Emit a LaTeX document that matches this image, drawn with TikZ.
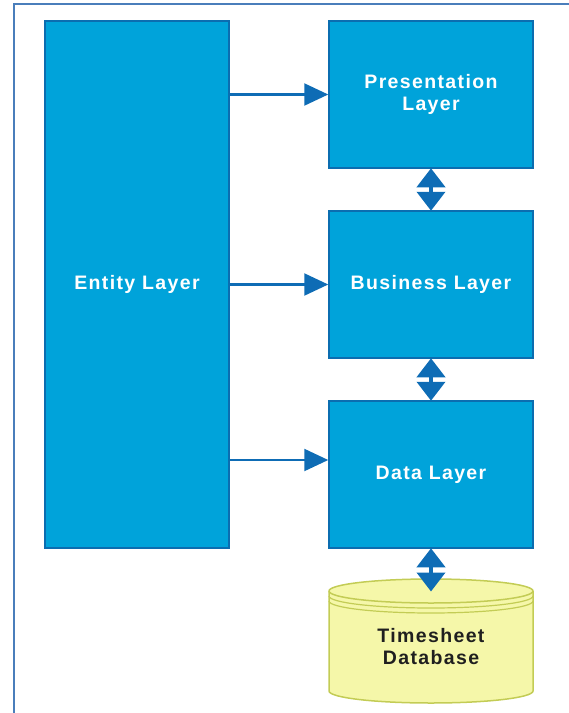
\documentclass[tikz,border=0pt]{standalone}
\usepackage{fontspec}
\setmainfont{Liberation Sans}[LetterSpace=7]
\usetikzlibrary{arrows.meta}
\definecolor{boxfill}{HTML}{00A3DA}
\definecolor{boxline}{HTML}{0B6DB0}
\definecolor{arrowc}{HTML}{0E6CB5}
\definecolor{framec}{HTML}{4A7EBB}
\definecolor{dbfill}{HTML}{F5F7A9}
\definecolor{dbline}{HTML}{C3CC55}
\tikzset{
  layer/.style={draw=boxline, line width=1.5pt, fill=boxfill, rectangle, inner sep=0pt,
    text=white, font=\fontsize{19.5}{22}\selectfont\bfseries, align=center},
  conn/.style={draw=arrowc, line width=2.2pt, -{Triangle[length=24pt,width=22pt]}},
  dconn/.style={draw=arrowc, line width=4pt, {Triangle[length=19pt,width=28pt]}-{Triangle[length=19pt,width=28pt]}, shorten <=-0.5pt, shorten >=-0.5pt}
}
\begin{document}
\begin{tikzpicture}[x=1pt,y=-1pt]
\useasboundingbox (0,0) rectangle (569,713);
% frame
\draw[framec, line width=2pt] (14,713) -- (14,4) -- (569,4);
% boxes
\node[layer, minimum width=184pt, minimum height=527pt] (entity) at (137,284.5) {Entity Layer};
\node[layer, minimum width=204pt, minimum height=147pt] (pres) at (431,94.5) {Presentation\\[0pt]Layer};
\node[layer, minimum width=204pt, minimum height=147pt] (bus) at (431,284.5) {Business Layer};
\node[layer, minimum width=204pt, minimum height=147pt] (data) at (431,474.5) {Data Layer};
% database cylinder
\filldraw[fill=dbfill, draw=dbline, line width=1.5pt]
  (329,591) -- (329,691) arc[start angle=180, end angle=0, x radius=102, y radius=12]
  -- (533,591) arc[start angle=360, end angle=180, x radius=102, y radius=12] -- cycle;
\draw[dbline, line width=1.5pt] (329,591) arc[start angle=180, end angle=0, x radius=102, y radius=12];
\draw[dbline, line width=1.2pt] (329,596) arc[start angle=180, end angle=0, x radius=102, y radius=12];
\draw[dbline, line width=1.2pt] (329,601) arc[start angle=180, end angle=0, x radius=102, y radius=12];
\coordinate (dbtop) at (431,591);
\node[font=\fontsize{19.5}{22}\selectfont\bfseries, text=black!88, align=center] (db) at (431,647) {Timesheet\\Database};
% connectors
\draw[conn] (entity.east |- pres.west) -- (pres.west);
\draw[conn] (entity.east |- bus.west) -- (bus.west);
\draw[conn] (entity.east) ++(0,175.5) coordinate (edat) (edat) -- (edat -| data.west);
\draw[dconn] (pres.south) -- (bus.north);
\draw[dconn] (bus.south) -- (data.north);
\draw[dconn] (data.south) -- (dbtop);
\end{tikzpicture}
\end{document}
